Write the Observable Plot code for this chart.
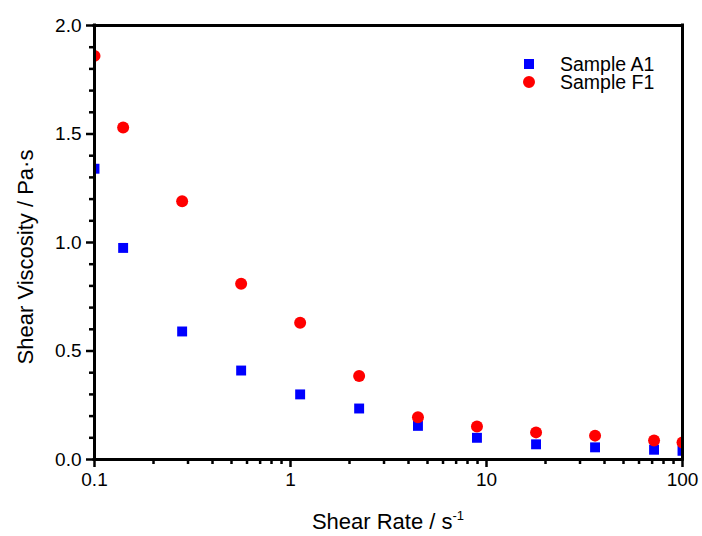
<!DOCTYPE html>
<html>
<head>
<meta charset="utf-8">
<script src="https://cdn.jsdelivr.net/npm/d3@7"></script>
<script src="https://cdn.jsdelivr.net/npm/@observablehq/plot@0.6"></script>
<style>
  html, body { margin: 0; padding: 0; background: #fff; }
  #chart { width: 702px; height: 536px; }
  svg { font-family: "Liberation Sans", Arial, sans-serif; }
</style>
</head>
<body>
<div id="chart"></div>
<script>
const shearRate = [0.1, 0.14, 0.28, 0.56, 1.12, 2.24, 4.47, 8.94, 17.9, 35.8, 71.6, 100];
const viscosityA1 = [1.34, 0.975, 0.59, 0.41, 0.30, 0.235, 0.155, 0.10, 0.07, 0.056, 0.045, 0.04];
const viscosityF1 = [1.86, 1.53, 1.19, 0.81, 0.63, 0.385, 0.195, 0.152, 0.125, 0.11, 0.088, 0.078];
const seriesNames = ["Sample A1", "Sample F1"];
const yMajorTicks = [0, 0.5, 1.0, 1.5, 2.0];
const yMinorTicks = [0.1, 0.2, 0.3, 0.4, 0.6, 0.7, 0.8, 0.9, 1.1, 1.2, 1.3, 1.4, 1.6, 1.7, 1.8, 1.9];
const xMajorTicks = [0.1, 1, 10, 100];
const xMinorTicks = [0.2,0.3,0.4,0.5,0.6,0.7,0.8,0.9,2,3,4,5,6,7,8,9,20,30,40,50,60,70,80,90];
const xTitle = "Shear Rate / s";
const xTitleSup = "-1";
const yTitle = "Shear Viscosity / Pa·s";

const dataA1 = shearRate.map((x, i) => ({x, y: viscosityA1[i]}));
const dataF1 = shearRate.map((x, i) => ({x, y: viscosityF1[i]}));
const xEdges = [0.1, 100];
const yEdges = [0, 2];

const tickFont = 19;
const plot = Plot.plot({
  width: 702,
  height: 536,
  marginLeft: 94,
  marginRight: 20,
  marginTop: 25,
  marginBottom: 77,
  style: {color: "black", background: "white", fontFamily: "Liberation Sans, Arial, sans-serif"},
  x: {type: "log", domain: [0.1, 100]},
  y: {domain: [0, 2]},
  marks: [
    Plot.dot(dataA1, {x: "x", y: "y", symbol: "square", r: 5.6, fill: "#0000ff", stroke: "none", clip: true}),
    Plot.dot(dataF1, {x: "x", y: "y", symbol: "circle", r: 6, fill: "#ff0000", stroke: "none", clip: true}),
    Plot.ruleX(xEdges, {stroke: "black", strokeWidth: 3, strokeLinecap: "square"}),
    Plot.ruleY(yEdges, {stroke: "black", strokeWidth: 3, strokeLinecap: "square"}),
    Plot.axisY({ticks: yMajorTicks, tickSize: 8, tickPadding: 5, stroke: "black", strokeWidth: 2.5, strokeOpacity: 1, tickFormat: d3.format(".1f"), fontSize: tickFont, label: null}),
    Plot.axisY({ticks: yMinorTicks, tickSize: 5, stroke: "black", strokeWidth: 2.5, strokeOpacity: 1, tickFormat: () => "", label: null}),
    Plot.axisX({ticks: xMajorTicks, tickSize: 8, tickPadding: 5, stroke: "black", strokeWidth: 2.5, strokeOpacity: 1, tickFormat: d => String(d), fontSize: tickFont, label: null}),
    Plot.axisX({ticks: xMinorTicks, tickSize: 5, stroke: "black", strokeWidth: 2.5, strokeOpacity: 1, tickFormat: () => "", label: null})
  ]
});
document.getElementById("chart").appendChild(plot);

const svg = d3.select(plot);

// X axis title with superscript
const xt = svg.append("text")
  .attr("x", 388).attr("y", 529)
  .attr("text-anchor", "middle")
  .attr("font-size", 22)
  .attr("fill", "black");
xt.append("tspan").text(xTitle);
xt.append("tspan").attr("dy", -9).attr("font-size", 13).text(xTitleSup);

// Y axis title
svg.append("text")
  .attr("transform", "translate(33,257) rotate(-90)")
  .attr("text-anchor", "middle")
  .attr("font-size", 22)
  .attr("fill", "black")
  .text(yTitle);

// Legend
const legendColors = ["#0000ff", "#ff0000"];
const legendSymbols = [d3.symbolSquare, d3.symbolCircle];
const legendSizes = [100, 113];
const lg = svg.append("g");
seriesNames.forEach((name, i) => {
  const cy = 64 + i * 18;
  lg.append("path")
    .attr("d", d3.symbol(legendSymbols[i], legendSizes[i])())
    .attr("transform", `translate(529,${cy})`)
    .attr("fill", legendColors[i]);
  lg.append("text")
    .attr("x", 560).attr("y", cy + 6.5)
    .attr("text-anchor", "start")
    .attr("font-size", 19.5)
    .attr("fill", "black")
    .text(name);
});
</script>
</body>
</html>
